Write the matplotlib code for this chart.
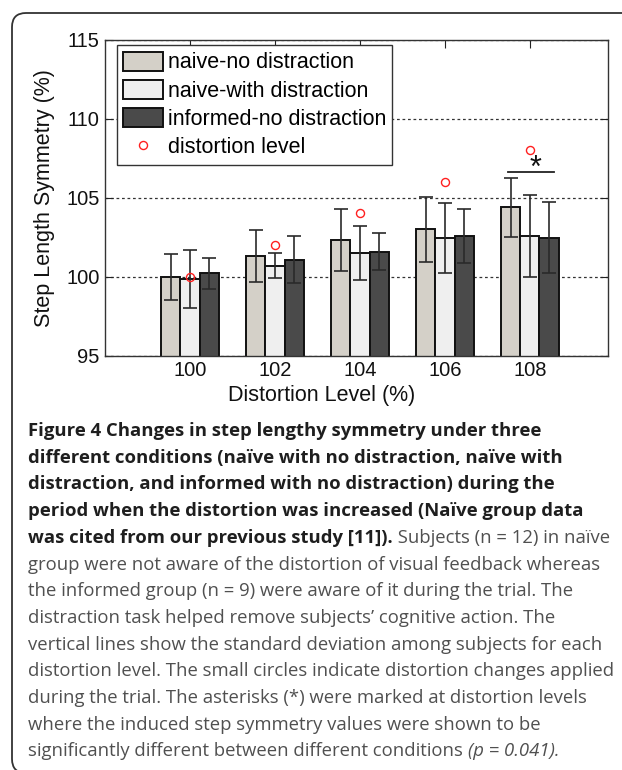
import matplotlib
matplotlib.use('Agg')
import matplotlib.pyplot as plt
from matplotlib.patches import FancyBboxPatch
from matplotlib.transforms import IdentityTransform

# data
levels = [100, 102, 104, 106, 108]
naive_no = [100.0, 101.31, 102.33, 102.99, 104.39]
naive_no_sd = [1.45, 1.67, 1.94, 2.05, 1.85]
naive_with = [99.84, 100.69, 101.5, 102.46, 102.58]
naive_with_sd = [1.85, 0.80, 1.72, 2.23, 2.60]
informed_no = [100.21, 101.07, 101.59, 102.58, 102.46]
informed_no_sd = [0.98, 1.50, 1.18, 1.72, 2.25]
distortion = [100, 102, 104, 106, 108]
sig_x = [107.48, 108.56]
sig_y = 106.6
star_pos = (108.14, 106.85)

names = ['naive-no distraction', 'naive-with distraction', 'informed-no distraction']
colors = ['#d4d0c8', '#efefef', '#4a4a4a']

W, H = 622, 770
fig = plt.figure(figsize=(W / 100, H / 100), dpi=100)
plt.rcParams['font.family'] = ['Liberation Sans', 'DejaVu Sans']

ax = fig.add_axes([105 / W, 1 - 355.7 / H, 502.7 / W, 316 / H])
bw = 0.45
series = [(naive_no, naive_no_sd), (naive_with, naive_with_sd), (informed_no, informed_no_sd)]
handles = []
for i, (vals, sd) in enumerate(series):
    xs = [l + (i - 1) * bw for l in levels]
    b = ax.bar(xs, vals, width=bw, bottom=0, color=colors[i], edgecolor='#111111',
               linewidth=1.4, label=names[i], zorder=2)
    handles.append(b)
    ax.errorbar(xs, vals, yerr=sd, fmt='none', ecolor='#2a2a2a', elinewidth=1.2,
                capsize=4.7, capthick=1.2, zorder=3)
circ, = ax.plot(levels, distortion, linestyle='none', marker='o', ms=5.8, mfc='none',
                mec='#ff2020', mew=1.0, label='distortion level', zorder=4)
handles.append(circ)

ax.plot(sig_x, [sig_y, sig_y], color='#222222', lw=1.3, zorder=4)
ax.text(star_pos[0], star_pos[1], '*', fontsize=22, ha='center', va='center', color='#111111')

ax.set_xlim(98, 109.83)
ax.set_ylim(95, 115)
ax.set_xticks(levels)
ax.set_yticks([95, 100, 105, 110, 115])
ax.tick_params(direction='in', length=5.8, width=0.8, top=True, right=True,
               labelsize=14.5, pad=4, colors='#222222', labelcolor='#111111')
for s in ax.spines.values():
    s.set_color('#333333')
    s.set_linewidth(1.0)
ax.yaxis.grid(True, linestyle=(0, (2.2, 2.2)), color='#333333', linewidth=0.9)
ax.set_axisbelow(True)

leg = ax.legend(handles=handles, labels=names + ['distortion level'],
                loc='upper left', bbox_to_anchor=(0.0233, 0.983), borderaxespad=0,
                fontsize=15.5, frameon=True, fancybox=False, framealpha=1,
                edgecolor='#333333', handlelength=1.86, handleheight=0.98,
                handletextpad=0.2, borderpad=0.3, labelspacing=0.3)
leg.get_frame().set_linewidth(1.0)

fig.text(322 / W, 1 - 396 / H, 'Distortion Level (%)', fontsize=15.5, ha='center',
         va='center', color='#111111')
fig.text(45 / W, 1 - 197.7 / H, 'Step Length Symmetry (%)', fontsize=15.5, ha='center',
         va='center', rotation=90, color='#111111')

# rounded frame around the whole figure panel
frame = FancyBboxPatch((12, -3), 660, H - 10, boxstyle='round,pad=0,rounding_size=14',
                       transform=IdentityTransform(), fill=False, ec='#333333', lw=1.3)
fig.add_artist(frame)

# caption
cap_font = ['Open Sans', 'DejaVu Sans']
bold_c = '#1e1e1e'
reg_c = '#505050'
cap_lines = [
    [('Figure 4 Changes in step lengthy symmetry under three', 'bold', 'normal')],
    [('different conditions (naïve with no distraction, naïve with', 'bold', 'normal')],
    [('distraction, and informed with no distraction) during the', 'bold', 'normal')],
    [('period when the distortion was increased (Naïve group data', 'bold', 'normal')],
    [('was cited from our previous study [11]).', 'bold', 'normal'),
     (' Subjects (n = 12) in naïve', 'normal', 'normal')],
    [('group were not aware of the distortion of visual feedback whereas', 'normal', 'normal')],
    [('the informed group (n = 9) were aware of it during the trial. The', 'normal', 'normal')],
    [('distraction task helped remove subjects’ cognitive action. The', 'normal', 'normal')],
    [('vertical lines show the standard deviation among subjects for each', 'normal', 'normal')],
    [('distortion level. The small circles indicate distortion changes applied', 'normal', 'normal')],
    [('during the trial. The asterisks (*) were marked at distortion levels', 'normal', 'normal')],
    [('where the induced step symmetry values were shown to be', 'normal', 'normal')],
    [('significantly different between different conditions ', 'normal', 'normal'),
     ('(p = 0.041).', 'normal', 'italic')],
]
renderer = fig.canvas.get_renderer()
x0 = 28
base0 = 436
pitch = 26.7
for k, parts in enumerate(cap_lines):
    x = x0
    y = H - (base0 + k * pitch)
    for txt, weight, style in parts:
        t = fig.text(x / W, y / H, txt, fontsize=13.3, family=cap_font, weight=weight,
                     style=style, color=bold_c if weight == 'bold' else reg_c,
                     ha='left', va='baseline')
        x += t.get_window_extent(renderer).width

fig.savefig('out.png', dpi=100)
